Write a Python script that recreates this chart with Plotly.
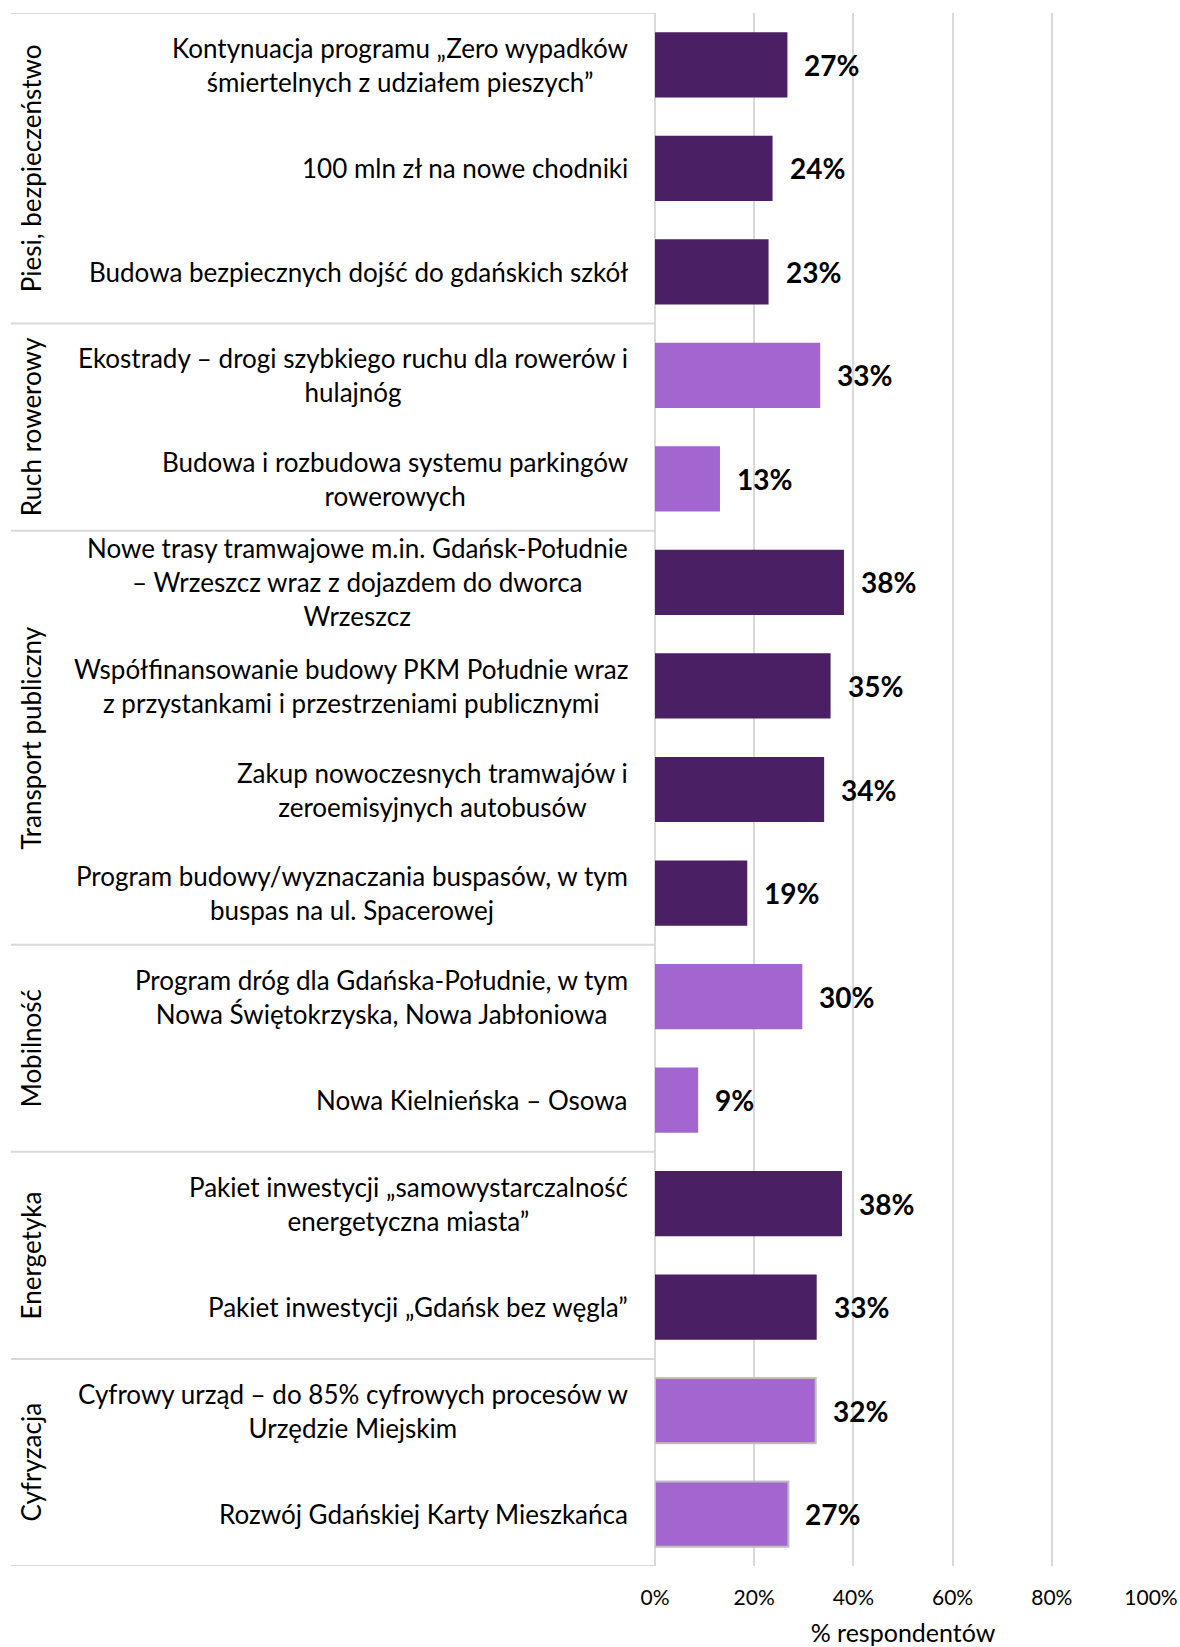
import plotly.graph_objects as go

categories = [
    "Kontynuacja programu „Zero wypadków<br>śmiertelnych z udziałem pieszych”",
    "100 mln zł na nowe chodniki",
    "Budowa bezpiecznych dojść do gdańskich szkół",
    "Ekostrady – drogi szybkiego ruchu dla rowerów i<br>hulajnóg",
    "Budowa i rozbudowa systemu parkingów<br>rowerowych",
    "Nowe trasy tramwajowe m.in. Gdańsk-Południe<br>– Wrzeszcz wraz z dojazdem do dworca<br>Wrzeszcz",
    "Współfinansowanie budowy PKM Południe wraz<br>z przystankami i przestrzeniami publicznymi",
    "Zakup nowoczesnych tramwajów i<br>zeroemisyjnych autobusów",
    "Program budowy/wyznaczania buspasów, w tym<br>buspas na ul. Spacerowej",
    "Program dróg dla Gdańska-Południe, w tym<br>Nowa Świętokrzyska, Nowa Jabłoniowa",
    "Nowa Kielnieńska – Osowa",
    "Pakiet inwestycji „samowystarczalność<br>energetyczna miasta”",
    "Pakiet inwestycji „Gdańsk bez węgla”",
    "Cyfrowy urząd – do 85% cyfrowych procesów w<br>Urzędzie Miejskim",
    "Rozwój Gdańskiej Karty Mieszkańca",
]
values = [26.7, 23.7, 22.9, 33.3, 13.1, 38.1, 35.4, 34.1, 18.6, 29.7, 8.7, 37.7, 32.6, 32.4, 26.9]
value_labels = ["27%", "24%", "23%", "33%", "13%", "38%", "35%", "34%", "19%", "30%", "9%", "38%", "33%", "32%", "27%"]
groups = ["Piesi, bezpieczeństwo", "Ruch rowerowy", "Transport publiczny", "Mobilność", "Energetyka", "Cyfryzacja"]
group_sizes = [3, 2, 4, 2, 2, 2]
group_colors = ["#4a1f63", "#a366d0", "#4a1f63", "#a366d0", "#4a1f63", "#a366d0"]
group_outline = [False, False, False, False, False, True]
tick_vals = [0, 20, 40, 60, 80, 100]
tick_text = ["0%", "20%", "40%", "60%", "80%", "100%"]

FONT = "Lato"

colors, lw = [], []
for g, n in enumerate(group_sizes):
    colors += [group_colors[g]] * n
    lw += [2 if group_outline[g] else 0] * n

idx = list(range(len(categories)))

fig = go.Figure()
fig.add_trace(go.Bar(
    x=values, y=idx, orientation="h",
    marker=dict(color=colors, line=dict(color="#bfbfbf", width=lw)),
    width=0.63, hoverinfo="skip", showlegend=False,
))

annotations = []
for i, (c, v, t) in enumerate(zip(categories, values, value_labels)):
    annotations.append(dict(x=0, xref="paper", y=i, yref="y", text=c, showarrow=False,
                            xanchor="right", yanchor="middle", align="center", xshift=-25,
                            font=dict(family=FONT, size=26, color="#000000")))
    annotations.append(dict(x=v, xref="x", y=i, yref="y", text="<b>" + t + "</b>", showarrow=False,
                            xanchor="left", yanchor="middle", xshift=15,
                            font=dict(family=FONT, size=28, color="#000000")))

shapes = []
LEFT = -1.2986
start = 0
shapes.append(dict(type="line", xref="paper", yref="y", x0=LEFT, x1=0, y0=-0.5, y1=-0.5,
                   line=dict(color="#d9d9d9", width=2)))
for g, n in enumerate(group_sizes):
    end = start + n
    shapes.append(dict(type="line", xref="paper", yref="y", x0=LEFT, x1=0, y0=end - 0.5, y1=end - 0.5,
                       line=dict(color="#d9d9d9", width=2)))
    annotations.append(dict(x=-1.258, xref="paper", y=(start + end - 1) / 2, yref="y", text=groups[g],
                            textangle=-90, showarrow=False, xanchor="center", yanchor="middle",
                            font=dict(family=FONT, size=26, color="#000000")))
    start = end

fig.update_layout(
    width=1180, height=1647,
    margin=dict(l=655, r=29, t=13, b=81, autoexpand=False),
    paper_bgcolor="white", plot_bgcolor="white",
    annotations=annotations, shapes=shapes,
    xaxis=dict(range=[0, 100], tickvals=tick_vals, ticktext=tick_text, showgrid=True, automargin=False,
               gridcolor="#d9d9d9", gridwidth=2, zeroline=True, zerolinecolor="#d9d9d9", zerolinewidth=2,
               tickfont=dict(family=FONT, size=21, color="#000000"), ticklabelstandoff=17,
               title=dict(text="% respondentów", font=dict(family=FONT, size=25, color="#000000"), standoff=20),
               fixedrange=True),
    yaxis=dict(range=[14.5, -0.5], showticklabels=False, showgrid=False, zeroline=False, fixedrange=True,
               automargin=False),
)

fig.write_html("out.html", config={"displayModeBar": False},
               post_script="document.body.style.margin='0';document.body.style.overflow='hidden';")
